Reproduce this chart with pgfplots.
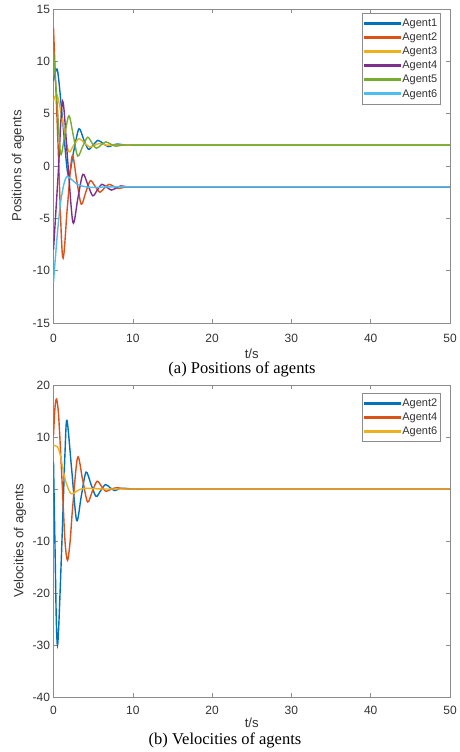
\documentclass[border=0pt]{standalone}
\usepackage{fontspec}
\setmainfont{Liberation Sans}
\newfontfamily\capfont{Liberation Serif}
\usepackage{pgfplots}
\pgfplotsset{compat=1.18}

\definecolor{c1}{rgb}{0,0.447,0.741}
\definecolor{c2}{rgb}{0.85,0.325,0.098}
\definecolor{c3}{rgb}{0.929,0.694,0.125}
\definecolor{c4}{rgb}{0.494,0.184,0.556}
\definecolor{c5}{rgb}{0.466,0.674,0.188}
\definecolor{c6}{rgb}{0.301,0.745,0.933}
\definecolor{axgray}{rgb}{0.55,0.55,0.55}
\definecolor{labgray}{rgb}{0.2,0.2,0.2}

\pgfplotsset{
  mstyle/.style={
    scale only axis, width=396.5pt,
    xmin=0, xmax=50, xtick={0,10,...,50},
    tick align=inside, major tick length=4pt,
    axis line style={axgray, line width=0.6pt},
    tick style={axgray, line width=0.5pt},
    every tick label/.append style={font=\fontsize{12}{14}\selectfont, text=labgray},
    /pgf/number format/assume math mode=true,
    label style={font=\fontsize{13.2}{15}\selectfont, text=labgray},
    legend cell align=left,
    legend image code/.code={\fill[##1] (0pt,-0.8pt) rectangle (35pt,0.8pt);},
    legend style={anchor=north east, draw=axgray, fill=white,
      inner xsep=2pt, inner ysep=4pt, row sep=2pt,
      font=\fontsize{11}{13}\selectfont, text=labgray,
      nodes={inner sep=1.5pt}},
  },
  crv/.style={line width=1.4pt, smooth, tension=0.5},
}

\begin{document}
\begin{tikzpicture}
\useasboundingbox (0pt,0pt) rectangle (459pt,-752pt);

% (a) positions
\begin{axis}[mstyle,
  at={(53.5pt,-323pt)}, anchor=south west, height=314pt,
  ymin=-15, ymax=15, ytick={-15,-10,...,15},
  xticklabel style={anchor=base, yshift=-19pt},
  xlabel={t/s}, xlabel style={at={(axis description cs:0.5,0)}, anchor=base, yshift=-35pt},
  ylabel={Positions of agents}, ylabel style={at={(axis description cs:-0.0895,0.5)}, anchor=center},
  legend style={at={(0.977,0.987)}},
]
\addplot[c1, crv] coordinates {(0,8.1)(0.5,9.15)(1.18,4.1)(1.85,-0.9)(2.52,1.3)(3.2,3.55)(3.8,2.55)(4.4,1.6)(5.0,2.0)(5.6,2.45)(6.25,2.15)(6.9,1.85)(7.5,2.0)(8.1,2.1)(9,2.0)(10,2)(12,2)(14,2)(17,2)(20,2)(25,2)(30,2)(35,2)(40,2)(45,2)(50,2)};
\addplot[c2, crv] coordinates {(0,13.2)(0.55,2.5)(1.15,-8.7)(1.75,-3.9)(2.35,0.95)(2.92,-1.35)(3.5,-3.65)(4.07,-2.5)(4.65,-1.4)(5.25,-1.95)(5.85,-2.5)(6.42,-2.1)(7.0,-1.75)(7.6,-1.95)(8.2,-2.15)(9.0,-2.02)(10,-2)(12,-2)(14,-2)(17,-2)(20,-2)(25,-2)(30,-2)(35,-2)(40,-2)(45,-2)(50,-2)};
\addplot[c3, crv] coordinates {(0,6.2)(0.45,6.8)(1.2,4.1)(1.9,1.4)(2.55,2.0)(3.2,2.6)(3.9,2.2)(4.6,1.8)(5.2,2.0)(5.8,2.15)(6.6,2.0)(7.5,2)(8.5,2)(10,2)(12,2)(14,2)(17,2)(20,2)(25,2)(30,2)(35,2)(40,2)(45,2)(50,2)};
\addplot[c4, crv] coordinates {(0,-8.0)(0.58,-0.9)(1.15,6.2)(1.8,0.4)(2.45,-5.4)(3.07,-3.1)(3.7,-0.8)(4.33,-1.8)(4.95,-2.85)(5.52,-2.3)(6.1,-1.75)(6.7,-2.02)(7.3,-2.3)(7.9,-2.1)(8.5,-1.9)(9.3,-2.0)(10,-2)(12,-2)(14,-2)(17,-2)(20,-2)(25,-2)(30,-2)(35,-2)(40,-2)(45,-2)(50,-2)};
\addplot[c5, crv] coordinates {(0,11.0)(0.45,6.1)(0.9,1.15)(1.42,3.0)(1.95,4.8)(2.5,2.9)(3.05,0.95)(3.67,1.85)(4.3,2.75)(4.85,2.2)(5.4,1.7)(6.0,2.0)(6.6,2.3)(7.2,2.1)(7.8,1.9)(8.8,2.0)(10,2)(12,2)(14,2)(17,2)(20,2)(25,2)(30,2)(35,2)(40,2)(45,2)(50,2)};
\addplot[c6, crv] coordinates {(0,-11.1)(0.46,-6.7)(0.875,-3.6)(1.29,-1.8)(1.7,-1.0)(2.3,-1.3)(3.0,-1.75)(3.8,-1.95)(5,-2.05)(6.5,-2.0)(8,-2)(10,-2)(12,-2)(14,-2)(17,-2)(20,-2)(25,-2)(30,-2)(35,-2)(40,-2)(45,-2)(50,-2)};
\legend{Agent1,Agent2,Agent3,Agent4,Agent5,Agent6}
\end{axis}
\node[font=\capfont\fontsize{16.5}{18}\selectfont, anchor=base] at (242pt,-373pt) {(a) Positions of agents};

% (b) velocities
\begin{axis}[mstyle,
  at={(53.5pt,-697pt)}, anchor=south west, height=312pt,
  ymin=-40, ymax=20, ytick={-40,-30,...,20},
  xticklabel style={anchor=base, yshift=-17pt},
  xlabel={t/s}, xlabel style={at={(axis description cs:0.5,0)}, anchor=base, yshift=-30.5pt},
  ylabel={Velocities of agents}, ylabel style={at={(axis description cs:-0.0846,0.5)}, anchor=center},
  legend style={at={(0.977,0.975)}},
]
\addplot[c1, crv] coordinates {(0,5.2)(0.2,-12)(0.35,-25)(0.5,-30.1)(0.7,-25)(1.1,-8.5)(1.45,7)(1.7,13.2)(2.3,3.6)(2.92,-6.05)(3.5,-1.4)(4.1,3.25)(4.73,0.9)(5.37,-1.43)(5.95,-0.3)(6.55,0.85)(7.1,0.3)(7.7,-0.3)(8.3,0.05)(8.9,0.15)(10,0)(12,0)(14,0)(17,0)(20,0)(25,0)(30,0)(35,0)(40,0)(45,0)(50,0)};
\addplot[c2, crv] coordinates {(0,10.3)(0.18,15.5)(0.38,17.3)(0.65,14)(1.07,1.8)(1.45,-10)(1.77,-13.7)(2.1,-10)(2.4,-3.8)(3.04,6.1)(3.67,1.8)(4.3,-2.5)(4.9,-0.4)(5.5,1.5)(6.05,0.5)(6.6,-0.45)(7.3,0)(8.0,0.25)(9,0)(10,0)(12,0)(14,0)(17,0)(20,0)(25,0)(30,0)(35,0)(40,0)(45,0)(50,0)};
\addplot[c3, crv] coordinates {(0,8.4)(0.5,8.1)(0.85,6.6)(1.14,4.2)(1.45,2.0)(1.77,0.4)(2.2,-0.9)(2.6,-0.75)(3.05,-0.3)(3.6,0.05)(4.3,0.15)(5.2,0.05)(6.5,0)(8,0)(10,0)(12,0)(14,0)(17,0)(20,0)(25,0)(30,0)(35,0)(40,0)(45,0)(50,0)};
\legend{Agent2,Agent4,Agent6}
\end{axis}
\node[font=\capfont\fontsize{16.5}{18}\selectfont, anchor=base] at (225pt,-744.5pt) {(b) Velocities of agents};
\end{tikzpicture}
\end{document}
